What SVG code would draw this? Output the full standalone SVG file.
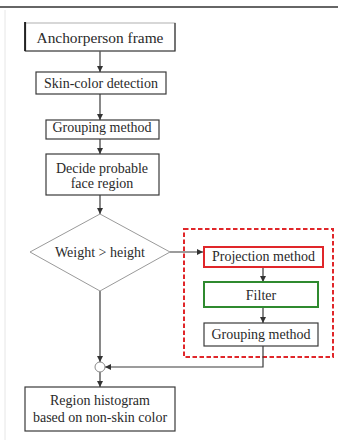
<svg xmlns="http://www.w3.org/2000/svg" width="338" height="445" viewBox="0 0 338 445">
  <defs>
    <marker id="arrow" viewBox="0 0 8 8" refX="8" refY="4" markerWidth="5" markerHeight="5" orient="auto">
      <path d="M0,0 L8,4 L0,8 Z" fill="#333"/>
    </marker>
    <style>
      .box { fill: #fff; stroke: #3a3a3a; stroke-width: 1.2; }
      .red { fill: #fff; stroke: #e0262a; stroke-width: 2; }
      .green { fill: #fff; stroke: #2f8a2f; stroke-width: 2; }
      .diamond { fill: #fff; stroke: #9a9a9a; stroke-width: 1; }
      .txt { font-family: "Liberation Serif", Tinos, "DejaVu Serif", "Times New Roman", serif; font-size: 14px; fill: #2a2a2a; text-anchor: middle; }
      .big { font-size: 15.4px; }
      .conn { fill: none; stroke: #3a3a3a; stroke-width: 1.2; }
      .dash { fill: none; stroke: #e0262a; stroke-width: 2; stroke-dasharray: 4.5 2.5; }
    </style>
  </defs>

  <rect x="0" y="0" width="338" height="445" fill="#fff"/>
  <!-- page rule and margin -->
  <line x1="0" y1="7" x2="338" y2="7" stroke="#333" stroke-width="1.5"/>
  <line x1="5" y1="10" x2="5" y2="440" stroke="#e6e6e6" stroke-width="1"/>

  <!-- dashed grouping frame -->
  <rect class="dash" x="184" y="229" width="149" height="128"/>

  <g id="connectors">
    <line class="conn" x1="100" y1="51" x2="100" y2="72" marker-end="url(#arrow)"/>
    <line class="conn" x1="100" y1="94" x2="100" y2="120" marker-end="url(#arrow)"/>
    <line class="conn" x1="100" y1="139" x2="100" y2="154" marker-end="url(#arrow)"/>
    <line class="conn" x1="100" y1="195" x2="100" y2="214" marker-end="url(#arrow)"/>
    <line class="conn" x1="170" y1="252" x2="203" y2="252" marker-end="url(#arrow)"/>
    <line class="conn" x1="263" y1="267" x2="263" y2="282" marker-end="url(#arrow)"/>
    <line class="conn" x1="263" y1="307" x2="263" y2="323" marker-end="url(#arrow)"/>
    <polyline class="conn" points="263,346 263,367 105,367" marker-end="url(#arrow)"/>
    <line class="conn" x1="100" y1="291" x2="100" y2="362" marker-end="url(#arrow)"/>
    <line class="conn" x1="100" y1="372" x2="100" y2="387" marker-end="url(#arrow)"/>
    <circle cx="100" cy="367" r="5" fill="#fff" stroke="#8a8a8a" stroke-width="1"/>
  </g>

  <g id="anchorperson-frame">
    <rect x="25" y="23" width="150" height="28" fill="#fff" stroke="#b0b0b0" stroke-width="1"/>
    <!-- darker left, right and bottom edges -->
    <path d="M25.5,22 V51 H175 V23" fill="none" stroke="#333" stroke-width="1.2"/>
    <line x1="25" y1="22" x2="25" y2="51" stroke="#222" stroke-width="1.8"/>
    <text class="txt big" x="100" y="42.5">Anchorperson frame</text>
  </g>

  <g id="skin-color-detection">
    <rect class="box" x="36" y="72" width="130" height="22"/>
    <text class="txt" x="101" y="88">Skin-color detection</text>
  </g>

  <g id="grouping-method">
    <rect class="box" x="46" y="120" width="113" height="19"/>
    <text class="txt" x="102" y="131.5">Grouping method</text>
  </g>

  <g id="decide-face-region">
    <rect class="box" x="46" y="154" width="113" height="41"/>
    <text class="txt" x="102" y="173">Decide probable</text>
    <text class="txt" x="102" y="188">face region</text>
  </g>

  <g id="weight-height">
    <polygon class="diamond" points="100,214 170,252 100,291 30,252"/>
    <text class="txt" x="100" y="257">Weight &gt; height</text>
  </g>

  <g id="projection-method">
    <rect class="red" x="204" y="247" width="119" height="20"/>
    <text class="txt" x="263.5" y="261">Projection method</text>
  </g>

  <g id="filter">
    <rect class="green" x="204" y="282" width="114" height="25"/>
    <text class="txt" x="261" y="299.5">Filter</text>
  </g>

  <g id="grouping-method-2">
    <rect class="box" x="204" y="323" width="114" height="23"/>
    <text class="txt" x="261" y="338.5">Grouping method</text>
  </g>

  <g id="region-histogram">
    <rect class="box" x="25" y="387" width="150" height="44"/>
    <text class="txt" x="100" y="405">Region histogram</text>
    <text class="txt" x="100" y="421.5">based on non-skin color</text>
  </g>
</svg>
